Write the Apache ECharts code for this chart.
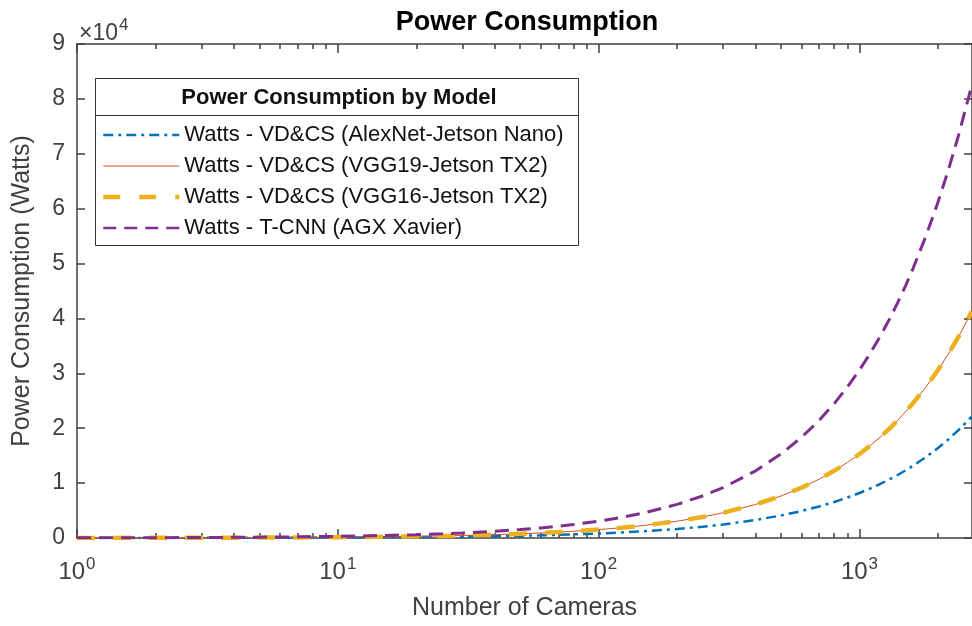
<!DOCTYPE html>
<html>
<head>
<meta charset="utf-8">
<script src="https://cdn.jsdelivr.net/npm/echarts@6/dist/echarts.min.js"></script>
<style>
  html, body { margin: 0; padding: 0; background: #fff; }
  #chart { width: 972px; height: 626px; }
</style>
</head>
<body>
<div id="chart"></div>
<script>
const cameras = [1, 2, 3, 4, 5, 6, 7, 8, 9, 10, 12, 15, 20, 25, 30, 40, 50, 60, 70, 80, 100, 120, 150, 200, 250, 300, 400, 500, 600, 700, 800, 900, 1000, 1100, 1200, 1300, 1400, 1500, 1600, 1800, 2000, 2200, 2400, 2700];

const alexnetNano = [8.2, 16.4, 24.6, 32.8, 41, 49.2, 57.4, 65.6, 73.8, 82, 98.4, 123, 164, 205, 246, 328, 410, 492, 574, 656, 820, 984, 1230, 1640, 2050, 2460, 3280, 4100, 4920, 5740, 6560, 7380, 8200, 9020, 9840, 10660, 11480, 12300, 13120, 14760, 16400, 18040, 19680, 22140];
const vgg19Tx2 = [15.3, 30.6, 45.9, 61.2, 76.5, 91.8, 107.1, 122.4, 137.7, 153, 183.6, 229.5, 306, 382.5, 459, 612, 765, 918, 1071, 1224, 1530, 1836, 2295, 3060, 3825, 4590, 6120, 7650, 9180, 10710, 12240, 13770, 15300, 16830, 18360, 19890, 21420, 22950, 24480, 27540, 30600, 33660, 36720, 41310];
const vgg16Tx2 = [15.3, 30.6, 45.9, 61.2, 76.5, 91.8, 107.1, 122.4, 137.7, 153, 183.6, 229.5, 306, 382.5, 459, 612, 765, 918, 1071, 1224, 1530, 1836, 2295, 3060, 3825, 4590, 6120, 7650, 9180, 10710, 12240, 13770, 15300, 16830, 18360, 19890, 21420, 22950, 24480, 27540, 30600, 33660, 36720, 41310];
const tcnnXavier = [30.6, 61.2, 91.8, 122.4, 153, 183.6, 214.2, 244.8, 275.4, 306, 367.2, 459, 612, 765, 918, 1224, 1530, 1836, 2142, 2448, 3060, 3672, 4590, 6120, 7650, 9180, 12240, 15300, 18360, 21420, 24480, 27540, 30600, 33660, 36720, 39780, 42840, 45900, 48960, 55080, 61200, 67320, 73440, 82620];

const seriesNames = [
  'Watts - VD&CS (AlexNet-Jetson Nano)',
  'Watts - VD&CS (VGG19-Jetson TX2)',
  'Watts - VD&CS (VGG16-Jetson TX2)',
  'Watts - T-CNN (AGX Xavier)'
];

const majorTicks = [1, 10, 100, 1000];
const minorTicks = [2, 3, 4, 5, 6, 7, 8, 9, 20, 30, 40, 50, 60, 70, 80, 90, 200, 300, 400, 500, 600, 700, 800, 900, 2000];
const yTicks = [0, 1, 2, 3, 4, 5, 6, 7, 8, 9];

const FONT = 'Liberation Sans, Arial, Helvetica, sans-serif';
const AX = '#404040';

const lineStyles = [
  { color: '#0072BD', width: 2.5, type: [10, 5, 3, 5] },
  { color: '#D95319', width: 1 },
  { color: '#EDB120', width: 4.5, type: [18, 18] },
  { color: '#7E2F8E', width: 3, type: [14, 8] }
];
const legendLines = [
  { color: '#0072BD', width: 2.5, type: [10, 5, 3, 5] },
  { color: '#D95319', width: 1 },
  { color: '#EDB120', width: 4.5, type: [17, 19] },
  { color: '#7E2F8E', width: 2.5, type: [13, 8] }
];

const chart = echarts.init(document.getElementById('chart'));

const pair = (vals) => cameras.map((c, i) => [c, vals[i]]);

function xAxisDef(position, ticks, len, showLine, showLabels) {
  return {
    type: 'log',
    logBase: 10,
    min: 1,
    max: 2700,
    position: position,
    axisLine: { show: showLine, lineStyle: { color: AX, width: 1.5 } },
    axisTick: { show: true, inside: true, length: len, customValues: ticks, lineStyle: { color: AX, width: 1.5 } },
    axisLabel: {
      show: showLabels,
      customValues: majorTicks,
      margin: 18,
      formatter: v => '{b|10}{s|' + Math.round(Math.log10(v)) + '}',
      rich: {
        b: { fontSize: 24, fontFamily: FONT, color: AX },
        s: { fontSize: 17, fontFamily: FONT, color: AX, verticalAlign: 'top', padding: [0, 0, 16, 1] }
      }
    },
    splitLine: { show: false },
    minorTick: { show: false },
    name: showLabels ? 'Number of Cameras' : '',
    nameLocation: 'middle',
    nameGap: 58,
    nameTextStyle: { fontSize: 25, fontFamily: FONT, color: AX }
  };
}

function yAxisDef(position, showLabels) {
  return {
    type: 'value',
    min: 0,
    max: 90000,
    interval: 10000,
    position: position,
    axisLine: { show: true, lineStyle: { color: AX, width: 1.5 } },
    axisTick: { show: true, inside: true, length: 8, lineStyle: { color: AX, width: 1.5 } },
    axisLabel: {
      show: showLabels,
      margin: 12,
      fontSize: 23,
      fontFamily: FONT,
      color: AX,
      formatter: v => String(yTicks[Math.round(v / 10000)])
    },
    splitLine: { show: false },
    name: showLabels ? 'Power Consumption (Watts)' : '',
    nameLocation: 'middle',
    nameGap: 42,
    nameTextStyle: { fontSize: 25, fontFamily: FONT, color: AX }
  };
}

const option = {
  animation: false,
  backgroundColor: '#fff',
  grid: { left: 77, right: -1, top: 44, bottom: 87 },
  xAxis: [
    xAxisDef('bottom', majorTicks, 9, true, true),
    xAxisDef('bottom', minorTicks, 5, false, false),
    xAxisDef('top', majorTicks, 9, true, false),
    xAxisDef('top', minorTicks, 5, false, false)
  ],
  yAxis: [
    yAxisDef('left', true),
    yAxisDef('right', false)
  ],
  legend: {
    orient: 'vertical',
    left: 96,
    top: 119,
    itemWidth: 76,
    itemHeight: 14,
    itemGap: 9,
    itemStyle: { opacity: 0 },
    textStyle: { fontSize: 22, fontFamily: FONT, color: '#111' },
    data: seriesNames.map((n, i) => ({ name: n, lineStyle: legendLines[i] }))
  },
  graphic: [
    {
      type: 'rect',
      z: 3,
      shape: { x: 95.5, y: 78.5, width: 483, height: 167 },
      style: { fill: '#fff', stroke: '#333', lineWidth: 1 }
    },
    {
      type: 'line',
      z: 3,
      shape: { x1: 95.5, y1: 115.5, x2: 578.5, y2: 115.5 },
      style: { stroke: '#333', lineWidth: 1 }
    },
    {
      type: 'text',
      z: 4,
      x: 339,
      y: 98,
      style: { text: 'Power Consumption by Model', font: 'bold 22px ' + FONT, fill: '#111', textAlign: 'center', textVerticalAlign: 'middle' }
    },
    {
      type: 'text',
      z: 4,
      x: 527,
      y: 23,
      style: { text: 'Power Consumption', font: 'bold 27px ' + FONT, fill: '#000', textAlign: 'center', textVerticalAlign: 'middle' }
    },
    {
      type: 'text',
      z: 4,
      x: 79,
      y: 17,
      style: {
        text: '{b|\u00d710}{s|4}',
        rich: {
          b: { fontSize: 23, fontFamily: FONT, fill: AX },
          s: { fontSize: 17, fontFamily: FONT, fill: AX, verticalAlign: 'top', padding: [0, 0, 16, 1] }
        }
      }
    }
  ],
  series: seriesNames.map((n, i) => ({
    name: n,
    type: 'line',
    symbol: 'none',
    data: pair([alexnetNano, vgg19Tx2, vgg16Tx2, tcnnXavier][i]),
    lineStyle: lineStyles[i],
    itemStyle: { color: lineStyles[i].color },
    z: 2 + i
  }))
};

chart.setOption(option);
</script>
</body>
</html>
